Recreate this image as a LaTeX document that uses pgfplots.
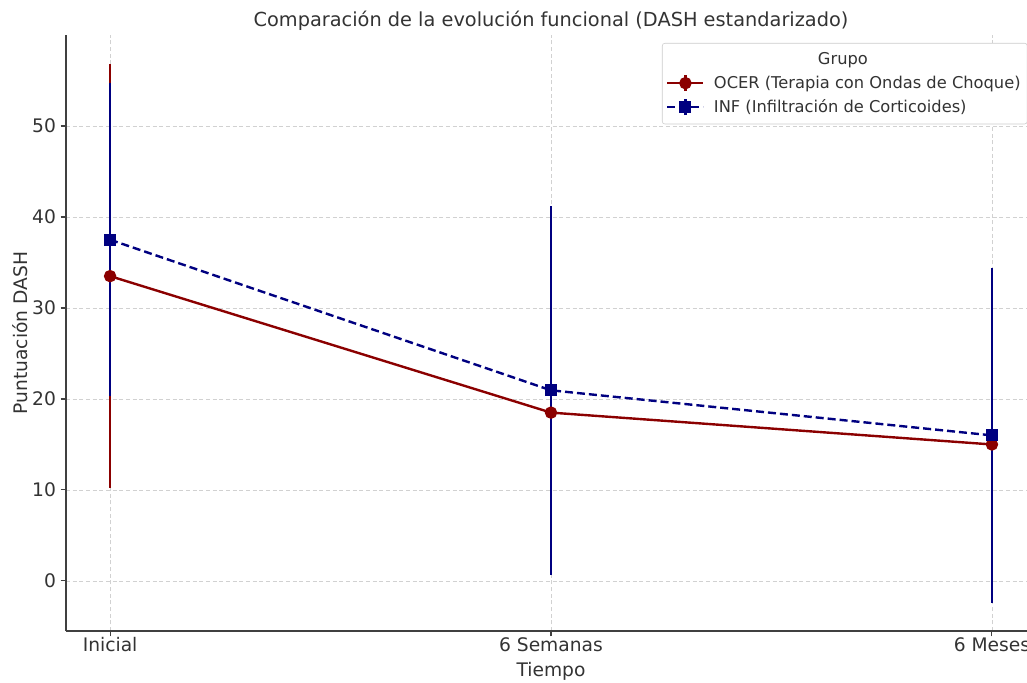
\documentclass[border=0pt]{standalone}
\usepackage{fontspec}
\setmainfont{DejaVu Sans}
\usepackage{pgfplots}
\pgfplotsset{compat=1.18}
\definecolor{ocer}{HTML}{8B0000}
\definecolor{inf}{HTML}{000080}
\definecolor{txt}{HTML}{333333}
\begin{document}
\begin{tikzpicture}
\begin{axis}[
  at={(49.5pt,38.25pt)}, anchor=south west,
  scale only axis, width=727.5pt, height=447pt,
  xmin=-0.1, xmax=2.1, ymin=-5.5, ymax=60,
  xtick={0,1,2}, xticklabels={Inicial,6 Semanas,6 Meses},
  ytick={0,10,20,30,40,50},
  axis x line*=bottom, axis y line*=left,
  axis line style={-, draw=black!75, line width=1pt},
  tick align=outside, major tick length=4pt,
  every tick/.style={black!75, line width=0.8pt},
  grid=major, grid style={dash pattern=on 3pt off 2pt, black!18, line width=0.5pt},
  tick label style={font=\fontsize{14}{16}\selectfont, text=txt},
  xticklabel style={yshift=2.5pt},
  /pgf/number format/assume math mode=true,
  label style={font=\fontsize{14}{16}\selectfont, text=txt},
  xlabel={Tiempo}, ylabel={Puntuación DASH},
  xlabel style={yshift=-0.5pt},
  ylabel style={yshift=-3.75pt},
  title={Comparación de la evolución funcional (DASH estandarizado)},
  title style={font=\fontsize{14.5}{16}\selectfont, text=txt, yshift=-6.5pt},
  legend style={at={(rel axis cs:0.6144,0.9866)}, anchor=north west,
    draw=black!20, fill=white, rounded corners=2pt,
    font=\fontsize{12.2}{14}\selectfont, text=txt, row sep=3pt, column sep=5pt,
    inner ysep=5pt, inner xsep=3pt},
  legend cell align=left,
  legend image code/.code={
    \draw[mark repeat=2,mark phase=2] plot coordinates {(0pt,0pt)(13.5pt,0pt)(27pt,0pt)};
    \draw[solid] (13.5pt,-6pt) -- (13.5pt,6pt);
  },
]
\addlegendimage{empty legend}
\addlegendentry{\hspace*{78pt}Grupo}
\addplot[color=ocer, line width=1.8pt, mark=*, mark size=3.75pt,
  error bars/.cd, y dir=both, y explicit, error mark=none,
  error bar style={solid, line width=1.8pt, color=ocer}]
  coordinates {(0,33.5) +- (0,23.3) (1,18.5) +- (0,16) (2,15) +- (0,14)};
\addlegendentry{OCER (Terapia con Ondas de Choque)}
\addplot[color=inf, line width=1.8pt, dash pattern=on 6pt off 3pt, mark=square*, mark size=3.6pt,
  mark options={solid},
  error bars/.cd, y dir=both, y explicit, error mark=none,
  error bar style={solid, line width=1.8pt, color=inf}]
  coordinates {(0,37.5) +- (0,17.2) (1,20.95) +- (0,20.3) (2,16) +- (0,18.4)};
\addlegendentry{INF (Infiltración de Corticoides)}
\end{axis}
\pgfresetboundingbox
\useasboundingbox (0,0) rectangle (770.25pt,511.5pt);
\end{tikzpicture}
\end{document}
